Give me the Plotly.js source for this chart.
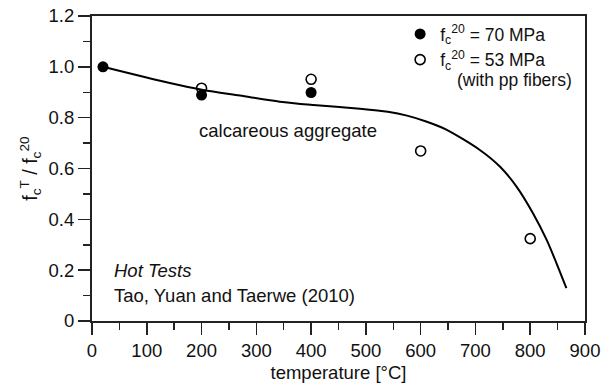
<!DOCTYPE html>
<html><head><meta charset="utf-8">
<script src="https://cdn.plot.ly/plotly-3.0.1.min.js"></script>
<style>body{margin:0}#c{width:604px;height:391px}</style></head>
<body><div id="c"></div>
<script>
const tempFilled = [20, 200, 400];
const ratioFilled = [1.0, 0.889, 0.899];
const tempOpen = [200, 400, 600, 800];
const ratioOpen = [0.916, 0.951, 0.669, 0.324];
const tempCurve = [20, 142, 203, 270, 343, 404, 489, 540, 575, 610, 645, 708, 745, 775, 805, 830, 848, 866];
const ratioCurve = [1.0, 0.936, 0.909, 0.887, 0.863, 0.85, 0.835, 0.823, 0.808, 0.785, 0.755, 0.673, 0.607, 0.529, 0.424, 0.319, 0.227, 0.129];
const yTickVals = [0, 0.2, 0.4, 0.6, 0.8, 1.0, 1.2];
const yTickText = ['0', '0.2', '0.4', '0.6', '0.8', '1.0', '1.2'];
const xTickVals = [0, 100, 200, 300, 400, 500, 600, 700, 800, 900];

const font = 'Liberation Sans, Arial, sans-serif';
const FS = 18.5;
const traces = [
  {x: tempCurve, y: ratioCurve, mode: 'lines', line: {color: '#000', width: 2, shape: 'spline', smoothing: 0.8}, showlegend: false, hoverinfo: 'skip'},
  {x: tempFilled, y: ratioFilled, mode: 'markers', name: 'f<sub>c</sub><sup>20</sup> = 70 MPa',
   marker: {symbol: 'circle', size: 11, color: '#000'}},
  {x: tempOpen, y: ratioOpen, mode: 'markers', name: 'f<sub>c</sub><sup>20</sup> = 53 MPa',
   marker: {symbol: 'circle-open', size: 10, color: '#000', line: {width: 1.6, color: '#000'}}}
];
const layout = {
  width: 604, height: 391,
  margin: {l: 92, r: 19, t: 16, b: 70},
  paper_bgcolor: '#fff', plot_bgcolor: '#fff',
  font: {family: font, size: FS, color: '#111'},
  showlegend: true,
  legend: {x: 0.625, xanchor: 'left', y: 1.0, yanchor: 'top', bgcolor: 'rgba(0,0,0,0)', font: {size: FS - 1}, itemwidth: 30, tracegroupgap: 0, borderwidth: 0},
  xaxis: {
    range: [0, 900], tickvals: xTickVals, showgrid: false, zeroline: false,
    showline: true, linecolor: '#222', linewidth: 2, mirror: true,
    ticks: 'outside', ticklen: 12, tickwidth: 1.5, tickcolor: '#222',
    minor: {dtick: 50, ticks: 'outside', ticklen: 7, tickwidth: 1.5, tickcolor: '#222'},
    title: {text: 'temperature [°C]', font: {size: FS}, standoff: 6}
  },
  yaxis: {
    range: [0, 1.2], tickvals: yTickVals, ticktext: yTickText, showgrid: false, zeroline: false,
    showline: true, linecolor: '#222', linewidth: 2, mirror: true,
    ticks: 'outside', ticklen: 12, tickwidth: 1.5, tickcolor: '#222',
    minor: {dtick: 0.1, ticks: 'outside', ticklen: 7, tickwidth: 1.5, tickcolor: '#222'},
    title: {text: 'f<sub>c</sub><sup>T</sup> / f<sub>c</sub><sup>20</sup>', font: {size: FS + 1}, standoff: 6}
  },
  annotations: [
    {x: 191, y: 0.748, xref: 'x', yref: 'y', text: 'calcareous aggregate', showarrow: false, xanchor: 'left', font: {size: FS}},
    {x: 37, y: 0.198, xref: 'x', yref: 'y', text: '<i>Hot Tests</i>', showarrow: false, xanchor: 'left', font: {size: FS}},
    {x: 37, y: 0.102, xref: 'x', yref: 'y', text: 'Tao, Yuan and Taerwe (2010)', showarrow: false, xanchor: 'left', font: {size: FS}},
    {x: 880, y: 0.948, xref: 'x', yref: 'y', text: '(with pp fibers)', showarrow: false, xanchor: 'right', font: {size: FS - 1}}
  ]
};
Plotly.newPlot('c', traces, layout, {displayModeBar: false, staticPlot: true});
</script></body></html>
